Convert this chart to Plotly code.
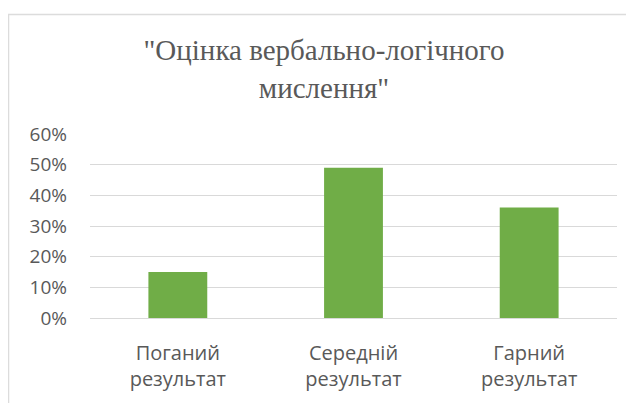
import plotly.graph_objects as go

categories = ["Поганий<br>результат", "Середній<br>результат", "Гарний<br>результат"]
values = [0.15, 0.49, 0.36]
y_ticks = [0, 0.1, 0.2, 0.3, 0.4, 0.5, 0.6]
y_tick_labels = ["0%", "10%", "20%", "30%", "40%", "50%", "60%"]
title_text = "\"Оцінка вербально-логічного<br>мислення\""

W, H = 634, 403
OFF = 8  # page body margin offset
ml, mr, mt, mb = 90 - OFF, 25, 134 - OFF, 93
pw, ph = W - ml - mr, H - mt - mb

fig = go.Figure()
fig.add_trace(go.Bar(x=categories, y=values, marker=dict(color="#70AD47", line=dict(width=0)),
                     width=0.335, hoverinfo="skip"))

def px_x(x):
    return (x - OFF - ml) / pw
def px_y(y):
    return (H - mb - (y - OFF)) / ph

fig.add_shape(type="rect", xref="paper", yref="paper",
              x0=px_x(8.5), x1=px_x(W + 20), y0=px_y(H + 20), y1=px_y(14.5),
              line=dict(color="#dcdcdc", width=1.5), fillcolor="rgba(0,0,0,0)", layer="below")

fig.update_layout(
    width=W, height=H,
    margin=dict(l=ml, r=mr, t=mt, b=mb),
    paper_bgcolor="white", plot_bgcolor="white",
    showlegend=False,
    title=dict(text=title_text, x=(324 - OFF) / W, xref="container", xanchor="center",
               y=1 - 52 / H, yref="container", yanchor="top",
               font=dict(family="Liberation Serif", size=29, color="#595959")),
    font=dict(family="Open Sans", color="#595959"),
)
fig.update_xaxes(showgrid=False, showline=True, linecolor="#d9d9d9", linewidth=1,
                 ticks="", tickfont=dict(size=20, color="#595959"), ticklabelstandoff=17,
                 fixedrange=True)
fig.update_yaxes(range=[0, 0.6], tickvals=y_ticks, ticktext=y_tick_labels,
                 showgrid=True, gridcolor="#d9d9d9", gridwidth=1, zeroline=False,
                 showline=False, ticks="", tickfont=dict(size=19, color="#595959"),
                 ticklabelstandoff=22, fixedrange=True)

fig.write_html("out.html")
